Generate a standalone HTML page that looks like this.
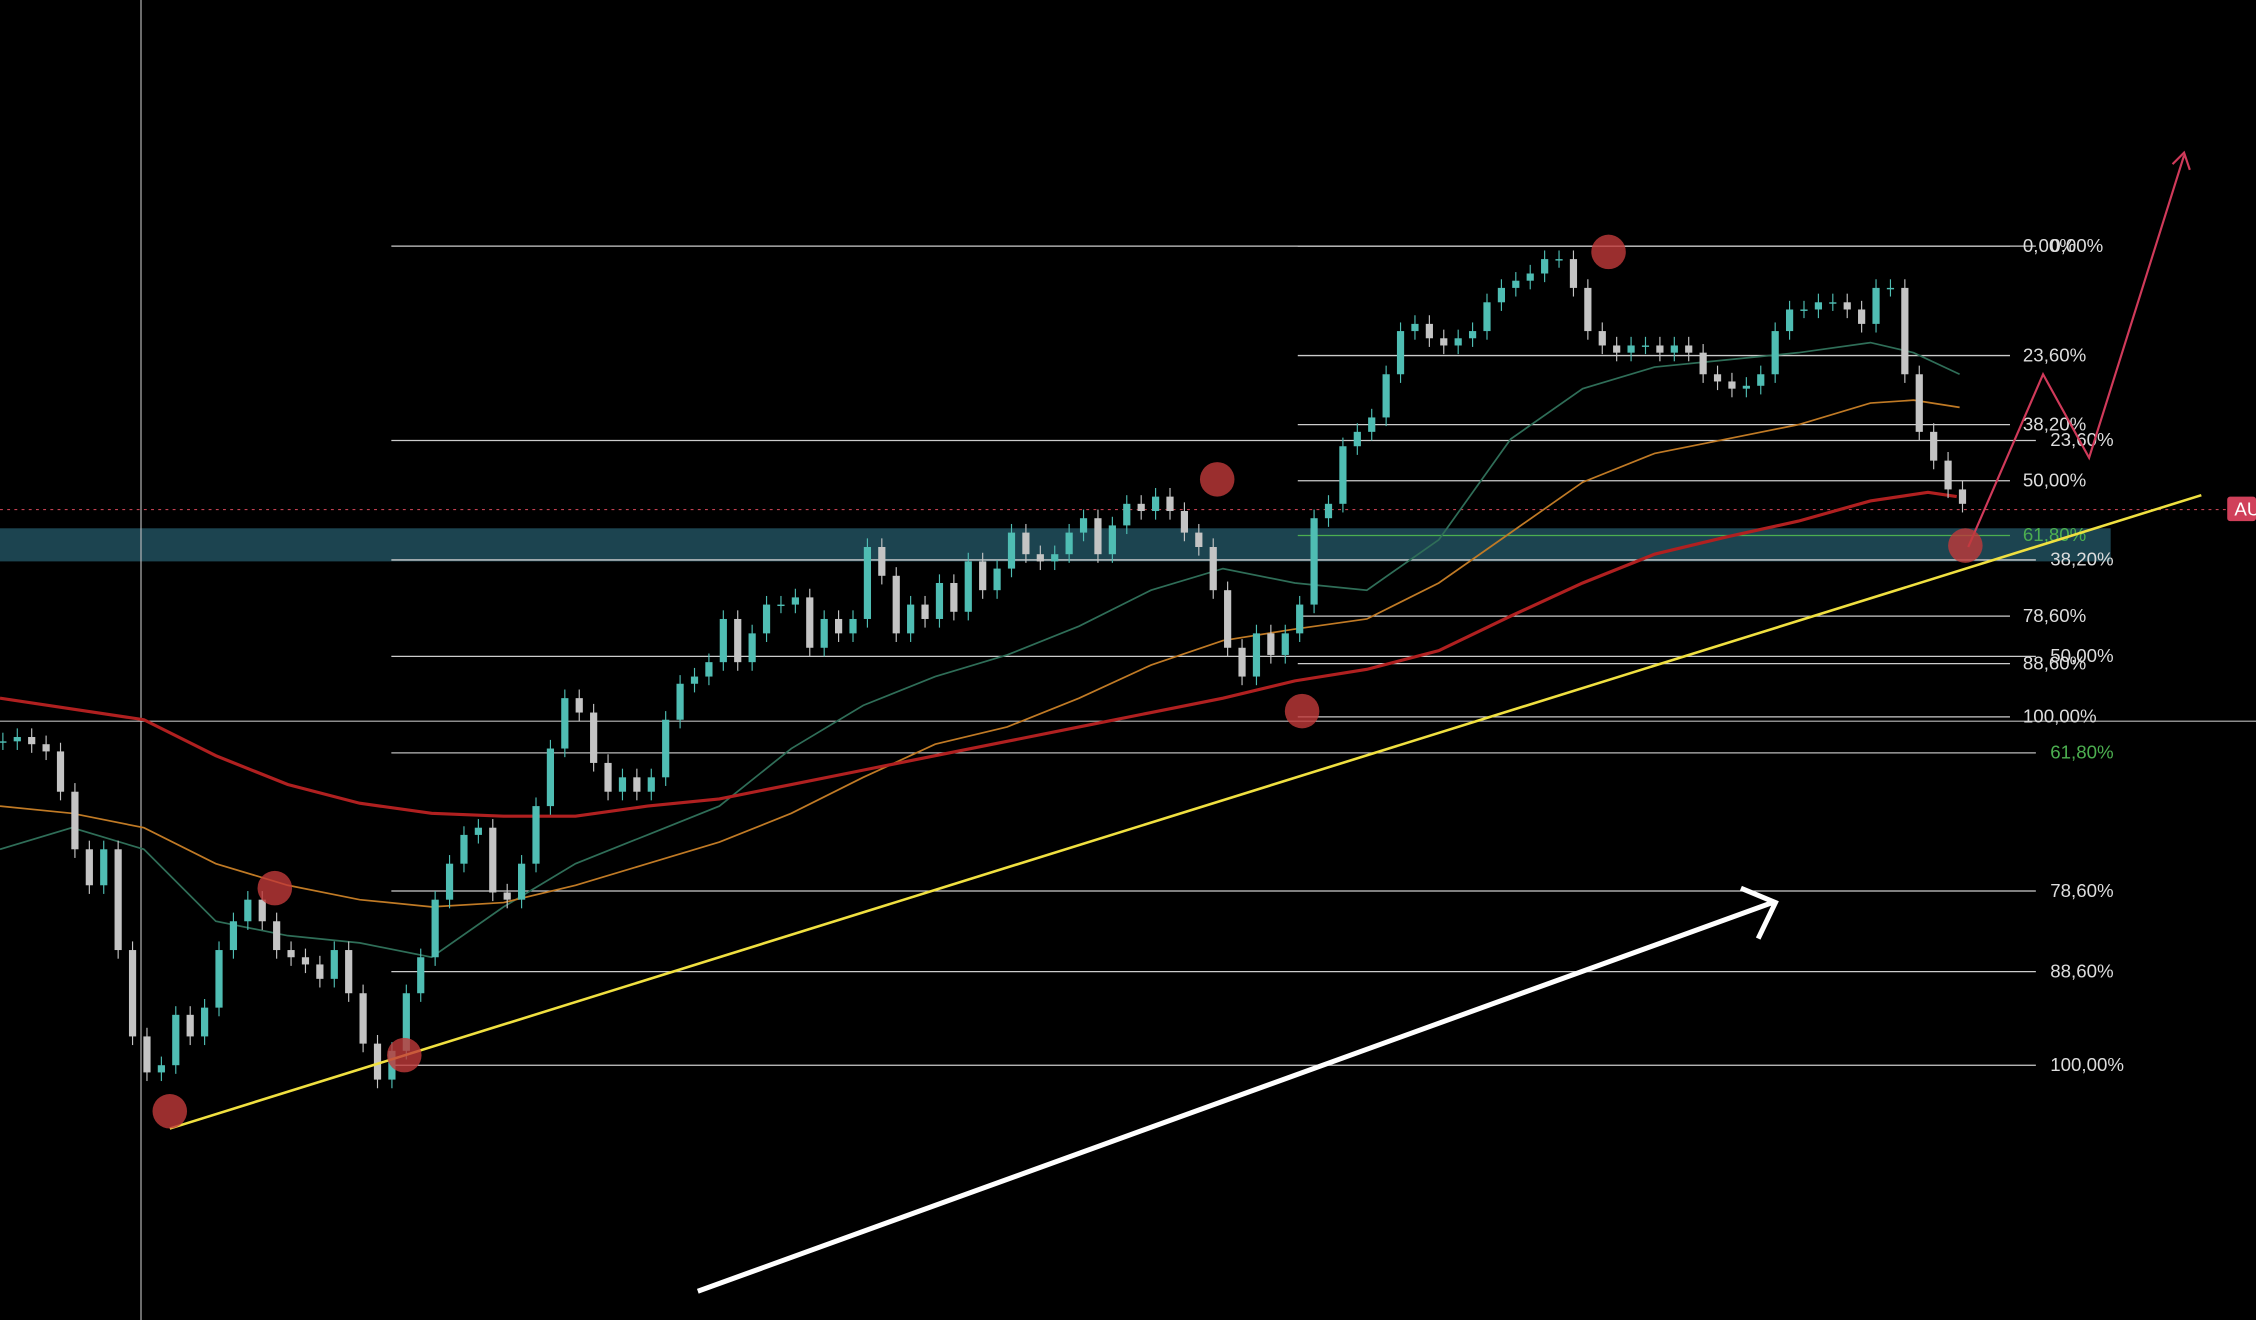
<!DOCTYPE html>
<html><head><meta charset="utf-8"><style>
html,body{margin:0;padding:0;background:#000;width:2256px;height:1320px;overflow:hidden}
svg{display:block}
text{font-family:"Liberation Sans",sans-serif;font-size:13px}
</style></head><body>
<svg id="chart" width="2256" height="1320" viewBox="0 0 1568 917" preserveAspectRatio="none" xmlns="http://www.w3.org/2000/svg">
<rect x="0" y="0" width="1568" height="917" fill="#000"/>
<rect x="0" y="367" width="1467" height="23" fill="#1c4450"/>
<line x1="98" y1="0" x2="98" y2="917" stroke="#bbb" stroke-width="0.8"/>
<line x1="0" y1="501" x2="1568" y2="501" stroke="#bbb" stroke-width="0.8"/>
<line x1="0" y1="354" x2="1548" y2="354" stroke="#c04050" stroke-width="0.8" stroke-dasharray="2,3"/>
<rect x="1548" y="345" width="20" height="17" rx="2" fill="#d0405a"/>
<text x="1553" y="358" fill="#fff" font-size="12">AU</text>
<g id="fib"></g>
<g id="mas"></g>
<g id="candles"></g>
<g id="marks"></g>
</svg>
<script>
const closes=[402,405,400,395,367,327,302,327,257,197,172,177,212,197,217,257,277,292,277,257,252,247,237,257,227,192,167,187,227,252,292,317,337,342,297,292,317,357,397,432,422,387,367,377,367,377,417,442,447,457,487,457,477,497,497,502,467,487,477,487,537,517,477,497,487,512,492,527,507,522,547,532,527,532,547,557,532,552,567,562,572,562,547,537,507,467,447,477,462,477,497,557,567,607,617,627,657,687,692,682,677,682,687,707,717,722,727,737,737,717,687,677,672,677,677,672,677,672,657,652,647,649,657,687,702,702,707,707,702,692,717,717,657,617,597,577,567];
const maRed=[432,417,392,372,359,352,350,350,357,362,372,382,392,402,412,422,432,444,452,465,489,512,532,544,555,569,575,572];
const maOrange=[357,352,342,317,302,292,287,290,302,317,332,352,377,400,412,432,455,472,480,487,512,547,582,602,612,622,637,639,634];
const maGreen=[327,342,327,277,267,262,252,287,317,337,357,397,427,447,462,482,507,522,512,507,542,612,647,662,667,672,679,672,657];
const maX=[0,50,100,150,200,250,300,350,400,450,500,550,600,650,700,750,800,850,900,950,1000,1050,1100,1150,1200,1250,1300,1330,1362];
const maXRed=[0,100,150,200,250,300,350,400,450,500,550,600,650,700,750,800,850,900,950,1000,1050,1100,1150,1200,1250,1300,1340,1360];
const fibA=["0,00%","23,60%","38,20%","50,00%","61,80%","78,60%","88,60%","100,00%"];
const fibAVals=[746,611,528,461,394,298,242,177];
const fibBVals=[746,670,622,583,545,489,456,419];
const NS="http://www.w3.org/2000/svg";
const yS=v=>917-v;
const xS=i=>2+i*(1362/(closes.length-1));
function mk(t,a,p){const e=document.createElementNS(NS,t);for(const k in a)e.setAttribute(k,a[k]);p.appendChild(e);return e;}
// fibs
const fib=document.getElementById('fib');
fibAVals.forEach((v,i)=>{
 const l=mk('line',{x1:272,x2:1415,y1:yS(v),y2:yS(v),stroke:i==4?'#bbb':'#ccc','stroke-width':0.9},fib);
 
 
 const t=mk('text',{x:1425,y:yS(v)+4,fill:i==4?'#4caf50':'#ddd'},fib);t.textContent=fibA[i];
 
 
});
fibBVals.forEach((v,i)=>{
 const l=mk('line',{x1:902,x2:1397,y1:yS(v),y2:yS(v),stroke:i==4?'#4caf50':'#ccc','stroke-width':0.9},fib);
 
 
 const t=mk('text',{x:1406,y:yS(v)+4,fill:i==4?'#4caf50':'#ddd'},fib);t.textContent=fibA[i];
 
 
});
// MAs
const mas=document.getElementById('mas');
function ma(xs,vals,col,w,name){const d=vals.map((v,i)=>(i?'L':'M')+xs[i]+','+yS(v)).join(' ');
 const p=mk('path',{d:d,fill:'none',stroke:col,'stroke-width':w},mas);
 
 }
ma(maX,maGreen,'#2f6e58',1.2,'ma-green');
ma(maX,maOrange,'#c07a25',1.2,'ma-orange');
ma(maXRed,maRed,'#b02020',2.2,'ma-red');
// candles
const cg=document.getElementById('candles');
closes.forEach((c,i)=>{
 const o=i?closes[i-1]:c;const up=c>=o;const col=up?'#4fbdb3':'#c4c4c4';
 const x=xS(i);const hi=Math.max(o,c)+6,lo=Math.min(o,c)-6;
 const w=mk('line',{x1:x,x2:x,y1:yS(hi),y2:yS(lo),stroke:col,'stroke-width':0.8},cg);
 
 
 const top=yS(Math.max(o,c));const h=Math.max(1,Math.abs(c-o));
 const r=mk('rect',{x:x-2.5,y:top,width:5,height:h,fill:col},cg);
 
 
});
</script>
<svg style="position:absolute;left:0;top:0" width="2256" height="1320" viewBox="0 0 1568 917" preserveAspectRatio="none" xmlns="http://www.w3.org/2000/svg">
<line x1="118" y1="784" x2="1530" y2="344" stroke="#f0e040" stroke-width="1.8"/>
<path d="M485,897 L1232,627 M1210,617 L1234,627 L1222,652" fill="none" stroke="#fff" stroke-width="3.5"/>
<path d="M1368,380 L1420,260 L1452,318 L1518,108 M1510,114 L1518,106 L1522,118" fill="none" stroke="#d03a5a" stroke-width="1.5"/>
<g fill="#c03a3a" fill-opacity="0.8">
<circle cx="118" cy="772" r="12"/><circle cx="191" cy="617" r="12"/><circle cx="281" cy="733" r="12"/><circle cx="846" cy="333" r="12"/><circle cx="905" cy="494" r="12"/><circle cx="1118" cy="175" r="12"/><circle cx="1366" cy="379" r="12"/>
</g>
</svg>
</body></html>
